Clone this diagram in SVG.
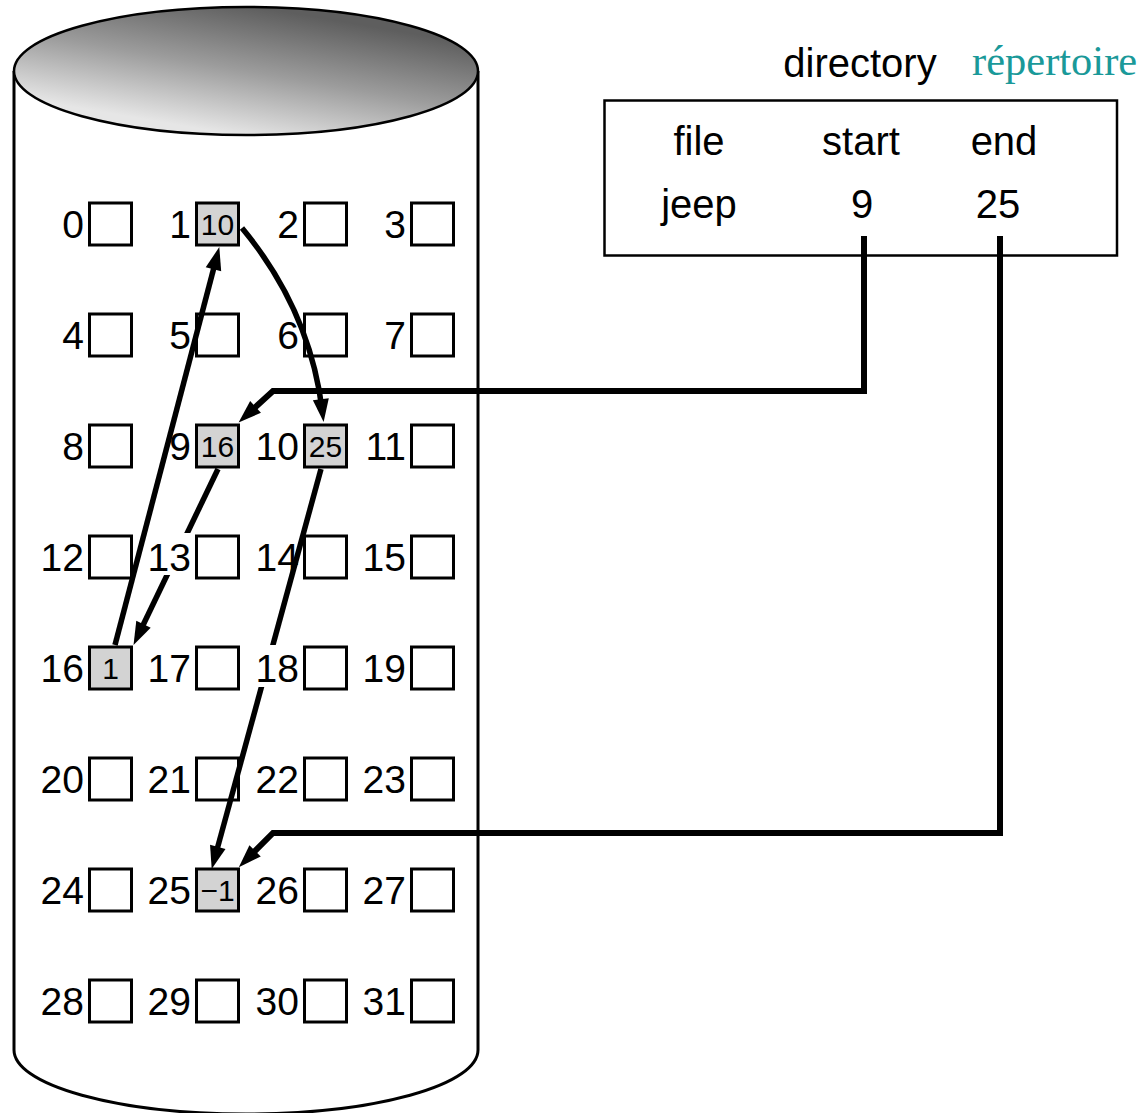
<svg xmlns="http://www.w3.org/2000/svg" width="1146" height="1113" viewBox="0 0 1146 1113">
  <style>
    .cell { fill: #ffffff; stroke: #000000; stroke-width: 3; }
    .used { fill: #d3d3d3; stroke: #000000; stroke-width: 3; }
    .num { font-family: "Liberation Sans", Arial, sans-serif; font-size: 39px; fill: #000000; text-anchor: end; }
    .val { font-family: "Liberation Sans", Arial, sans-serif; font-size: 30px; fill: #000000; text-anchor: middle; }
    .dir { font-family: "Liberation Sans", Arial, sans-serif; font-size: 40px; fill: #000000; text-anchor: middle; }
    .fr { font-family: "Liberation Serif", "Times New Roman", serif; font-size: 42.5px; fill: #1a9999; }
    .link { fill: none; stroke: #000000; stroke-width: 5.5; stroke-linejoin: miter; marker-end: url(#head); }
    .ptr { fill: none; stroke: #000000; stroke-width: 6; stroke-linejoin: miter; marker-end: url(#head); }
    .knock { fill: #ffffff; }
  </style>
  <defs>
    <linearGradient id="platter" gradientUnits="userSpaceOnUse" x1="258" y1="7" x2="236" y2="135">
      <stop offset="0" stop-color="#5e5e5e"/>
      <stop offset="0.5" stop-color="#9c9c9c"/>
      <stop offset="1" stop-color="#e6e6e6"/>
    </linearGradient>
    <marker id="head" markerUnits="userSpaceOnUse" markerWidth="24" markerHeight="18" refX="12" refY="8" orient="auto" overflow="visible">
      <path d="M0,0 L23,8 L0,16 Z" fill="#000000"/>
    </marker>
  </defs>

  <!-- disk cylinder -->
  <g id="disk">
    <path d="M14,71 V1050 A232,64 0 0 0 478,1050 V71" fill="#ffffff" stroke="#000000" stroke-width="3"/>
    <ellipse cx="246" cy="71" rx="232" ry="64" fill="url(#platter)" stroke="#000000" stroke-width="2.5"/>
  </g>

  <!-- directory table -->
  <g id="directory">
    <text class="dir" x="860" y="77">directory</text>
    <text class="fr" x="972" y="75">répertoire</text>
    <rect x="604.5" y="100.5" width="512.5" height="155" fill="#ffffff" stroke="#000000" stroke-width="2.5"/>
    <text class="dir" x="699" y="155">file</text>
    <text class="dir" x="861" y="155">start</text>
    <text class="dir" x="1004" y="155">end</text>
    <text class="dir" x="699" y="218">jeep</text>
    <text class="dir" x="862" y="218">9</text>
    <text class="dir" x="998" y="218">25</text>
  </g>

  <!-- disk blocks: row 0 -->
  <g id="block-0"><text class="num" x="84" y="238">0</text><rect class="cell" x="89.5" y="203" width="42" height="42"/></g>
  <g id="block-1"><text class="num" x="191" y="238">1</text><rect class="used" x="196.5" y="203" width="42" height="42"/><text class="val" x="217.5" y="235">10</text></g>
  <g id="block-2"><text class="num" x="299" y="238">2</text><rect class="cell" x="304.5" y="203" width="42" height="42"/></g>
  <g id="block-3"><text class="num" x="406" y="238">3</text><rect class="cell" x="411.5" y="203" width="42" height="42"/></g>
  <!-- row 1 -->
  <g id="block-4"><text class="num" x="84" y="349">4</text><rect class="cell" x="89.5" y="314" width="42" height="42"/></g>
  <g id="block-5"><text class="num" x="191" y="349">5</text><rect class="cell" x="196.5" y="314" width="42" height="42"/></g>
  <g id="block-6"><text class="num" x="299" y="349">6</text><rect class="cell" x="304.5" y="314" width="42" height="42"/></g>
  <g id="block-7"><text class="num" x="406" y="349">7</text><rect class="cell" x="411.5" y="314" width="42" height="42"/></g>
  <!-- row 2 -->
  <g id="block-8"><text class="num" x="84" y="460">8</text><rect class="cell" x="89.5" y="425" width="42" height="42"/></g>
  <g id="block-9"><text class="num" x="191" y="460">9</text><rect class="used" x="196.5" y="425" width="42" height="42"/><text class="val" x="217.5" y="457">16</text></g>
  <g id="block-10"><text class="num" x="299" y="460">10</text><rect class="used" x="304.5" y="425" width="42" height="42"/><text class="val" x="325.5" y="457">25</text></g>
  <g id="block-11"><text class="num" x="406" y="460">11</text><rect class="cell" x="411.5" y="425" width="42" height="42"/></g>
  <!-- row 3 -->
  <g id="block-12"><text class="num" x="84" y="571">12</text><rect class="cell" x="89.5" y="536" width="42" height="42"/></g>
  <g id="block-14"><text class="num" x="299" y="571">14</text><rect class="cell" x="304.5" y="536" width="42" height="42"/></g>
  <g id="block-15"><text class="num" x="406" y="571">15</text><rect class="cell" x="411.5" y="536" width="42" height="42"/></g>
  <!-- row 4 -->
  <g id="block-16"><text class="num" x="84" y="682">16</text><rect class="used" x="89.5" y="647" width="42" height="42"/><text class="val" x="110.5" y="679">1</text></g>
  <g id="block-17"><text class="num" x="191" y="682">17</text><rect class="cell" x="196.5" y="647" width="42" height="42"/></g>
  <g id="block-19"><text class="num" x="406" y="682">19</text><rect class="cell" x="411.5" y="647" width="42" height="42"/></g>
  <!-- row 5 -->
  <g id="block-20"><text class="num" x="84" y="793">20</text><rect class="cell" x="89.5" y="758" width="42" height="42"/></g>
  <g id="block-21"><text class="num" x="191" y="793">21</text><rect class="cell" x="196.5" y="758" width="42" height="42"/></g>
  <g id="block-22"><text class="num" x="299" y="793">22</text><rect class="cell" x="304.5" y="758" width="42" height="42"/></g>
  <g id="block-23"><text class="num" x="406" y="793">23</text><rect class="cell" x="411.5" y="758" width="42" height="42"/></g>
  <!-- row 6 -->
  <g id="block-24"><text class="num" x="84" y="904">24</text><rect class="cell" x="89.5" y="869" width="42" height="42"/></g>
  <g id="block-25"><text class="num" x="191" y="904">25</text><rect class="used" x="196.5" y="869" width="42" height="42"/><text class="val" x="217.5" y="901">−1</text></g>
  <g id="block-26"><text class="num" x="299" y="904">26</text><rect class="cell" x="304.5" y="869" width="42" height="42"/></g>
  <g id="block-27"><text class="num" x="406" y="904">27</text><rect class="cell" x="411.5" y="869" width="42" height="42"/></g>
  <!-- row 7 -->
  <g id="block-28"><text class="num" x="84" y="1015">28</text><rect class="cell" x="89.5" y="980" width="42" height="42"/></g>
  <g id="block-29"><text class="num" x="191" y="1015">29</text><rect class="cell" x="196.5" y="980" width="42" height="42"/></g>
  <g id="block-30"><text class="num" x="299" y="1015">30</text><rect class="cell" x="304.5" y="980" width="42" height="42"/></g>
  <g id="block-31"><text class="num" x="406" y="1015">31</text><rect class="cell" x="411.5" y="980" width="42" height="42"/></g>

  <!-- block chain and directory pointers -->
  <g id="connectors">
    <path class="ptr" d="M864,236 V391 H273 L246.7,415"/>
    <path class="ptr" d="M1000,236 V833 H273 L246.6,859.4"/>
    <path class="link" d="M242,228 Q310,310 322.3,411.1"/>
    <path class="link" d="M115,645 L216.5,257.7"/>
    <path class="link" d="M218,469 L138.3,635"/>
    <path class="link" d="M321,469 L214.6,858.4"/>
  </g>

  <!-- blocks whose labels sit over the chain lines -->
  <g id="block-13"><rect class="knock" x="149" y="533" width="44" height="42"/><text class="num" x="191" y="571">13</text><rect class="cell" x="196.5" y="536" width="42" height="42"/></g>
  <g id="block-18"><rect class="knock" x="256" y="645" width="44" height="42"/><text class="num" x="299" y="682">18</text><rect class="cell" x="304.5" y="647" width="42" height="42"/></g>
</svg>
